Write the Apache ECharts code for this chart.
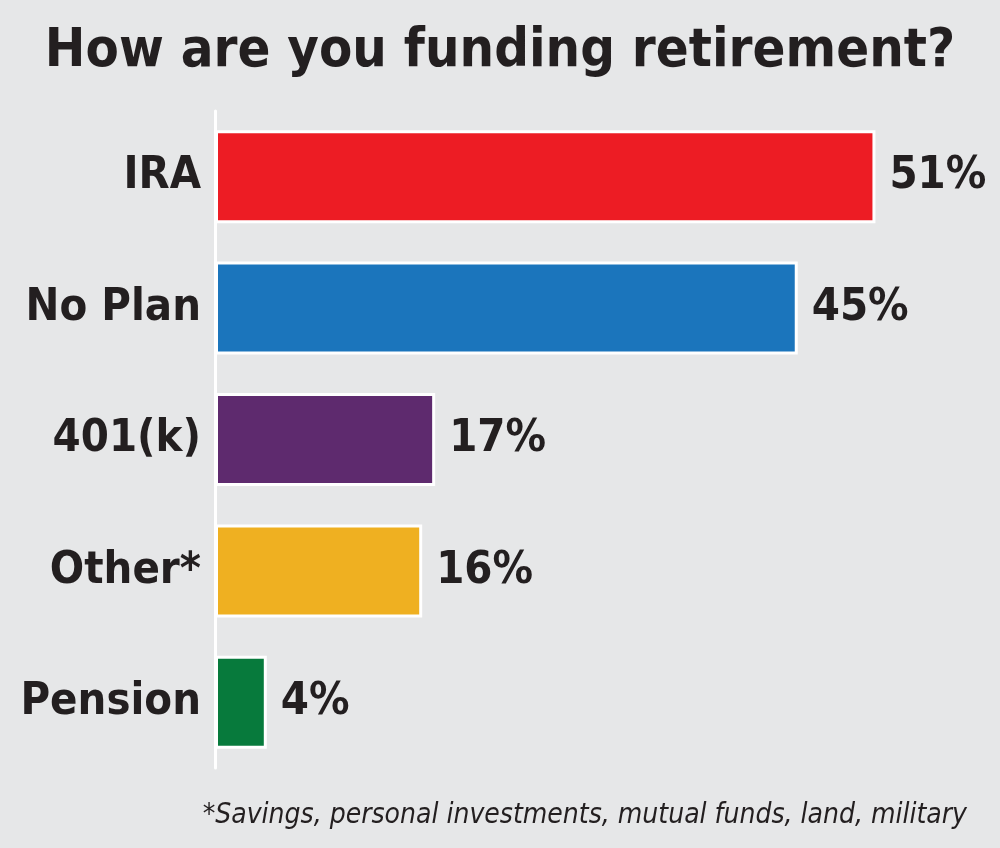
<!DOCTYPE html>
<html>
<head>
<meta charset="utf-8">
<script src="https://cdn.jsdelivr.net/npm/echarts@6/dist/echarts.min.js"></script>
<style>
  html, body { margin: 0; padding: 0; background: #e6e7e8; }
  #chart { width: 1000px; height: 848px; }
</style>
</head>
<body>
<div id="chart"></div>
<script>
var categories = ['IRA', 'No Plan', '401(k)', 'Other*', 'Pension'];
var values = [51, 45, 17, 16, 4];
var barColors = ['#ed1c24', '#1b75bc', '#5e2a6e', '#efb021', '#077a3c'];
var titleText = 'How are you funding retirement?';
var footnote = '*Savings, personal investments, mutual funds, land, military';

var font = '"Liberation Sans Narrow", "DejaVu Sans Condensed", sans-serif';
var myChart = echarts.init(document.getElementById('chart'));

var option = {
    backgroundColor: '#e6e7e8',
    animation: false,
    title: [{
        text: titleText,
        left: 'center',
        top: 20,
        textStyle: {
            color: '#231f20',
            fontFamily: font,
            fontWeight: 'bold',
            fontSize: 54
        }
    }, {
        text: footnote,
        right: 28,
        top: 797,
        textStyle: {
            color: '#231f20',
            fontFamily: font,
            fontStyle: 'italic',
            fontWeight: 'normal',
            fontSize: 28
        }
    }],
    grid: {
        left: 215,
        width: 777,
        top: 111,
        height: 657
    },
    xAxis: {
        type: 'value',
        min: 0,
        max: 60,
        show: false
    },
    yAxis: {
        type: 'category',
        inverse: true,
        data: categories,
        axisLine: {
            show: true,
            lineStyle: { color: '#ffffff', width: 3 }
        },
        axisTick: { show: false },
        axisLabel: {
            color: '#231f20',
            fontFamily: font,
            fontWeight: 'bold',
            fontSize: 45,
            margin: 14
        }
    },
    series: [{
        type: 'bar',
        data: values.map(function (v, i) {
            return { value: v, itemStyle: { color: barColors[i] } };
        }),
        barWidth: 93,
        itemStyle: {
            borderColor: '#ffffff',
            borderWidth: 3
        },
        label: {
            show: true,
            position: 'right',
            distance: 14,
            formatter: '{c}%',
            color: '#231f20',
            fontFamily: font,
            fontWeight: 'bold',
            fontSize: 45
        }
    }]
};

myChart.setOption(option);
</script>
</body>
</html>
